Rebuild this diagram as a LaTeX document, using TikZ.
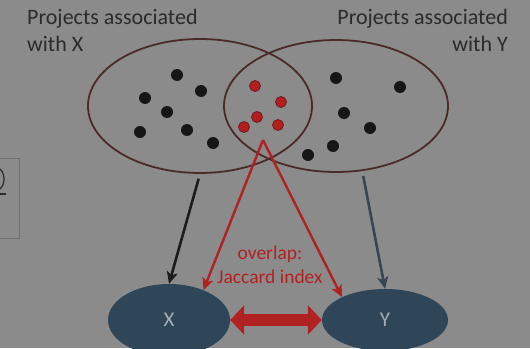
\documentclass[tikz,border=0pt]{standalone}
\usepackage{fontspec}
\setmainfont{Carlito}
\usetikzlibrary{shapes.geometric,arrows.meta}

\definecolor{bgcol}{HTML}{8B8B8B}
\definecolor{labelcol}{HTML}{2B2B2B}
\definecolor{setline}{HTML}{4B2A2A}
\definecolor{dotblack}{HTML}{161616}
\definecolor{dotred}{HTML}{B41E1E}
\definecolor{dotredline}{HTML}{6E1A1A}
\definecolor{entityfill}{HTML}{2F4658}
\definecolor{entitytext}{HTML}{A4AEB8}
\definecolor{linkred}{HTML}{B02222}
\definecolor{linkblack}{HTML}{1C1C1C}
\definecolor{linkgray}{HTML}{3B4552}
\definecolor{boxline}{HTML}{6F6F6F}

\tikzset{
  setshape/.style={ellipse, draw=setline, line width=1.8pt, inner sep=0pt},
  entity/.style={ellipse, fill=entityfill, inner sep=0pt, text=entitytext,
    font=\fontsize{21}{24}\selectfont},
  dotb/.style={circle, fill=dotblack, inner sep=0pt, minimum size=12pt},
  dotr/.style={circle, fill=dotred, draw=dotredline, line width=0.8pt,
    inner sep=0pt, minimum size=11pt},
  setlabel/.style={text=labelcol, inner sep=0pt, font=\fontsize{22}{27}\selectfont},
  memberlink/.style={line width=2.6pt, shorten <=5pt,
    -{Stealth[length=12pt, width=11pt, inset=3pt]}},
  overlaplink/.style={draw=linkred, line width=2.4pt,
    -{Stealth[length=12pt, width=11pt, inset=3pt]}},
}

\begin{document}
\begin{tikzpicture}[x=1pt, y=-1pt]
  % canvas
  \fill[bgcol] (0,0) rectangle (530,348);
  \useasboundingbox (0,0) rectangle (530,348);

  % edge of a neighbouring panel, mostly cut off
  \draw[boxline, line width=0.8pt] (-5,158) rectangle (19,238);
  \draw[labelcol, line width=1.2pt] (-3,168) arc[start angle=-90, end angle=90, x radius=7, y radius=11];
  \draw[labelcol, line width=1.2pt] (-1,194) -- (6,194);

  % the two project sets
  \node[setshape, minimum width=224pt, minimum height=134pt] (setA) at (200,106) {};
  \node[setshape, minimum width=224pt, minimum height=132pt] (setB) at (336,106) {};

  % set labels
  \node[setlabel, align=left, anchor=north west] (labA) at (27,9)
    {Projects associated\\with X};
  \node[setlabel, align=right, anchor=north east] (labB) at (508,9)
    {Projects associated\\with Y};

  % projects only in X
  \node[dotb] (a1) at (177,75) {};
  \node[dotb] (a2) at (201,91) {};
  \node[dotb] (a3) at (145,98) {};
  \node[dotb] (a4) at (167,112) {};
  \node[dotb] (a5) at (140,132) {};
  \node[dotb] (a6) at (187,130) {};
  \node[dotb] (a7) at (213,143) {};

  % shared projects
  \node[dotr] (c1) at (255,86) {};
  \node[dotr] (c2) at (281,102) {};
  \node[dotr] (c3) at (257,117) {};
  \node[dotr] (c4) at (244,127) {};
  \node[dotr] (c5) at (278,125) {};

  % projects only in Y
  \node[dotb] (b1) at (336,78) {};
  \node[dotb] (b2) at (400,87) {};
  \node[dotb] (b3) at (344,113) {};
  \node[dotb] (b4) at (370,128) {};
  \node[dotb] (b5) at (333,146) {};
  \node[dotb] (b6) at (308,155) {};

  % the two entities
  \node[entity, minimum width=122pt, minimum height=72pt] (X) at (169,320) {X};
  \node[entity, minimum width=126pt, minimum height=62pt] (Y) at (385,320) {Y};

  % set -> entity
  \draw[memberlink, draw=linkblack, color=linkblack] (setA.south) -- (X.north);
  \draw[memberlink, draw=linkgray, color=linkgray] (setB.-68) -- (Y.north);

  % overlap -> entities
  \coordinate (ov) at (263,140);
  \draw[overlaplink, color=linkred] (ov) -- (X.41);
  \draw[overlaplink, color=linkred] (ov) -- (Y.152);

  % similarity between X and Y
  \draw[linkred, line width=12pt,
    {Triangle[length=14pt, width=29pt]}-{Triangle[length=14pt, width=29pt]}]
    (X.east) -- (Y.west);

  \node[text=linkred, align=center, inner sep=0pt,
    font=\fontsize{19.5}{24}\selectfont] (jac) at (270,265)
    {overlap:\\Jaccard index};
\end{tikzpicture}
\end{document}
